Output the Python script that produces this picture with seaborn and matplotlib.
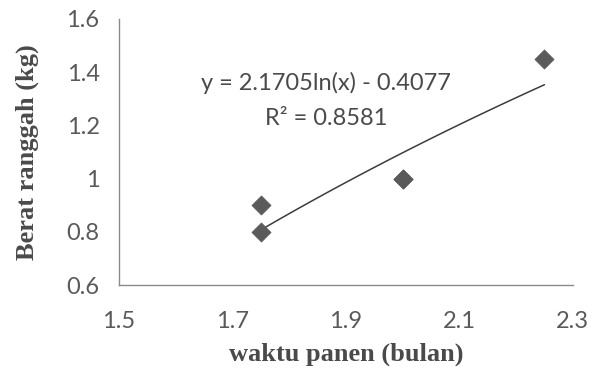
import numpy as np
import pandas as pd
import matplotlib
matplotlib.use("Agg")
import matplotlib.pyplot as plt
import seaborn as sns

# Harvest time (months) and antler weight (kg)
waktu_panen = [1.75, 1.75, 2.0, 2.0, 2.25]
berat_ranggah = [0.8, 0.9, 1.0, 1.0, 1.45]

# Logarithmic trendline coefficients and fit quality
koef_a = 2.1705
koef_b = -0.4077
r_kuadrat = 0.8581

x_ticks = [1.5, 1.7, 1.9, 2.1, 2.3]
y_ticks = [0.6, 0.8, 1.0, 1.2, 1.4, 1.6]
y_ticklabels = ["0.6", "0.8", "1", "1.2", "1.4", "1.6"]

sns.set_theme(style="white")
plt.rcParams["font.family"] = ["Lato", "DejaVu Sans"]

fig = plt.figure(figsize=(5.93, 3.76), dpi=100)
ax = fig.add_axes([0.2007, 0.242, 0.7653, 0.708])

df = pd.DataFrame({"x": waktu_panen, "y": berat_ranggah})
sns.scatterplot(data=df, x="x", y="y", marker="D", s=95, color="#5a5a5a",
                edgecolor="#5a5a5a", linewidth=0.5, ax=ax, zorder=3)

x_fit = np.linspace(min(waktu_panen), max(waktu_panen), 100)
df_fit = pd.DataFrame({"x": x_fit, "y": koef_a * np.log(x_fit) + koef_b})
sns.lineplot(data=df_fit, x="x", y="y", color="#3c3c3c", linewidth=1.1, ax=ax, zorder=2)

ax.set_xlim(1.5, 2.3)
ax.set_ylim(0.6, 1.6)
ax.set_xticks(x_ticks)
ax.set_xticklabels([f"{t:.1f}" for t in x_ticks])
ax.set_yticks(y_ticks)
ax.set_yticklabels(y_ticklabels)

for side in ["top", "right"]:
    ax.spines[side].set_visible(False)
for side in ["left", "bottom"]:
    ax.spines[side].set_color("#8a8a8a")
    ax.spines[side].set_linewidth(1.0)

ax.tick_params(axis="both", direction="out", length=5, width=1.0,
               color="#8a8a8a", labelsize=17, labelcolor="#5a5a5a")
ax.tick_params(axis="x", pad=14)
ax.tick_params(axis="y", pad=8, length=6)

ax.set_xlabel("waktu panen (bulan)", family=["Liberation Serif"], fontweight="bold",
              fontsize=19, color="#4a4a4a", labelpad=7)
ax.set_ylabel("Berat ranggah (kg)", family=["Liberation Serif"], fontweight="bold",
              fontsize=19, color="#4a4a4a", labelpad=20)

ax.text(1.865, 1.36, f"y = {koef_a}ln(x) - {abs(koef_b)}", ha="center", va="center",
        fontsize=17, color="#4a4a4a")
ax.text(1.865, 1.225, f"R² = {r_kuadrat}", ha="center", va="center",
        fontsize=17, color="#4a4a4a")

fig.savefig("out.png", dpi=100, facecolor="white")
